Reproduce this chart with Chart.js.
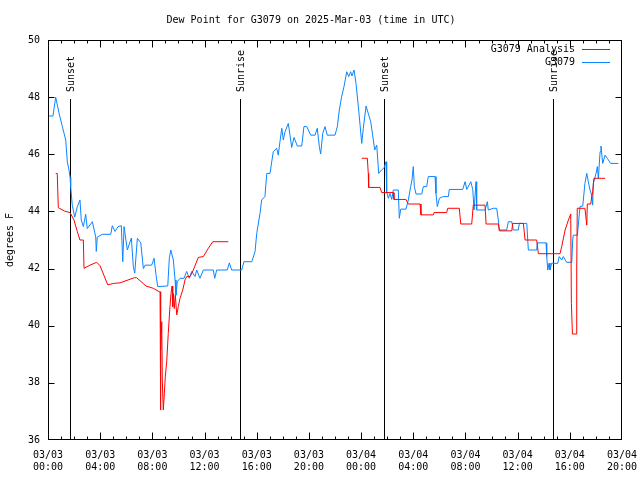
<!DOCTYPE html>
<html>
<head>
<meta charset="utf-8">
<script src="https://cdn.jsdelivr.net/npm/chart.js@4"></script>
<style>
html, body { margin: 0; padding: 0; background: #fff; }
</style>
</head>
<body>
<canvas id="dewChart" width="640" height="480"></canvas>
<script>
// hours since 03/03 00:00 UTC
const obsHours = [0.08, 0.38, 0.59, 0.84, 1.10, 1.36, 1.48, 1.61, 1.69, 1.74, 1.86, 2.05, 2.25, 2.45, 2.55, 2.71, 2.89, 3.01, 3.40, 3.66,
    3.70, 3.78, 4.16, 4.81, 4.93, 5.14, 5.37, 5.62, 5.73, 5.83, 6.08, 6.39, 6.54, 6.65, 6.85, 7.11, 7.31, 7.44, 7.95, 8.13,
    8.28, 8.41, 9.18, 9.30, 9.41, 9.61, 9.74, 9.81, 9.91, 10.12, 10.43, 10.63, 10.83, 11.02, 11.27, 11.40, 11.65, 11.91, 12.67, 12.78,
    12.93, 13.74, 13.90, 14.08, 14.85, 15.02, 15.62, 15.87, 16.00, 16.25, 16.38, 16.63, 16.77, 17.02, 17.15, 17.27, 17.53, 17.65, 17.78, 17.92,
    18.04, 18.17, 18.42, 18.55, 18.68, 18.86, 19.11, 19.45, 19.62, 19.83, 20.14, 20.47, 20.64, 20.80, 20.90, 21.06, 21.23, 21.41, 22.00, 22.18,
    22.33, 22.51, 22.69, 22.90, 23.05, 23.20, 23.30, 23.46, 23.61, 23.79, 23.92, 24.05, 24.17, 24.38, 24.55, 24.74, 24.94, 25.04, 25.20, 25.35,
    25.45, 25.78, 25.91, 25.96, 26.09, 26.22, 26.35, 26.47, 26.85, 26.93, 27.04, 27.44, 27.62, 27.80, 27.90, 28.00, 28.08, 28.21, 28.65, 28.77,
    29.03, 29.15, 29.67, 29.74, 29.84, 30.00, 30.30, 30.69, 30.76, 31.79, 31.97, 32.10, 32.41, 32.56, 32.66, 32.81, 32.86, 33.50, 33.68, 33.75,
    34.14, 34.39, 34.52, 34.60, 35.16, 35.29, 35.55, 35.67, 36.05, 36.13, 36.70, 36.82, 37.46, 37.51, 38.18, 38.23, 38.31, 38.41, 38.48, 38.61,
    39.07, 39.19, 39.38, 39.50, 39.76, 40.15, 40.22, 40.27, 40.58, 40.78, 40.99, 41.16, 41.30, 41.42, 41.55, 41.68, 41.75, 41.80, 42.01, 42.11,
    42.19, 42.32, 42.39, 42.52, 42.70, 42.87, 43.13, 43.72];
const obsDew = [47.34, 47.34, 48.00, 47.45, 46.97, 46.50, 45.74, 45.45, 45.20, 44.87, 44.22, 43.80, 44.17, 44.40, 43.70, 43.47, 43.90, 43.40, 43.64, 43.10,
    42.60, 43.10, 43.20, 43.20, 43.50, 43.30, 43.47, 43.50, 42.24, 43.47, 42.65, 43.07, 42.07, 41.84, 43.06, 42.90, 42.00, 42.12, 42.12, 42.36,
    41.78, 41.37, 41.39, 42.36, 42.65, 42.30, 41.60, 41.07, 41.54, 41.66, 41.66, 41.90, 41.66, 41.90, 41.72, 41.95, 41.66, 41.95, 41.95, 41.66,
    41.95, 41.95, 42.20, 41.95, 41.95, 42.24, 42.24, 42.59, 43.23, 43.93, 44.40, 44.52, 45.33, 45.33, 45.74, 46.09, 46.21, 45.97, 46.44, 46.91,
    46.50, 46.79, 47.08, 46.67, 46.24, 46.59, 46.29, 46.29, 46.97, 46.97, 46.67, 46.67, 46.91, 46.27, 46.01, 46.73, 46.97, 46.67, 46.67, 46.97,
    47.55, 48.02, 48.37, 48.89, 48.72, 48.89, 48.74, 48.95, 48.48, 47.67, 47.03, 46.38, 46.91, 47.69, 47.43, 47.14, 46.50, 46.15, 46.32, 45.33,
    45.39, 45.54, 45.74, 44.69, 44.46, 44.63, 44.42, 44.75, 44.75, 43.76, 44.08, 44.08, 44.40, 44.87, 45.10, 45.57, 44.87, 44.61, 44.61, 44.87,
    44.87, 45.22, 45.22, 44.63, 44.17, 44.46, 44.52, 44.52, 44.77, 44.77, 45.04, 44.77, 45.04, 44.77, 44.05, 45.04, 44.05, 44.05, 44.34, 44.05,
    44.11, 44.11, 43.70, 43.35, 43.35, 43.64, 43.64, 43.35, 43.35, 43.58, 43.58, 42.65, 42.65, 42.90, 42.90, 42.42, 41.95, 42.19, 41.95, 42.19,
    42.18, 42.42, 42.30, 42.42, 42.22, 42.22, 43.00, 43.17, 43.17, 44.17, 44.19, 44.98, 45.33, 45.04, 44.75, 44.57, 44.22, 44.98, 45.33, 45.57,
    45.16, 46.09, 46.29, 45.68, 45.97, 45.86, 45.68, 45.68];

const anaHours = [0.59, 0.71, 0.79, 1.28, 1.69, 1.99, 2.25, 2.45, 2.71, 2.76, 3.22, 3.73, 3.99, 4.58, 5.01, 5.52, 6.62, 6.80, 7.51, 8.07,
    8.53, 8.59, 8.61, 8.66, 8.72, 8.76, 8.84, 8.92, 8.99, 9.10, 9.22, 9.35, 9.43, 9.51, 9.56, 9.61, 9.68, 9.76, 9.87, 9.99,
    10.12, 10.33, 10.50, 10.63, 10.89, 11.14, 11.52, 11.91, 12.29, 12.63, 13.82,
    19.00,
    24.05, 24.48, 24.55, 24.58, 25.45, 25.58, 26.47, 26.52, 27.44, 27.62, 28.52, 28.59, 29.54, 29.59, 30.56, 30.64, 31.53, 31.64, 32.48, 32.60,
    33.50, 33.58, 34.52, 34.60, 35.55, 35.62, 36.44, 36.57, 37.46, 37.59, 39.25, 39.38, 39.64, 39.89, 40.07, 40.12, 40.20, 40.48, 40.53, 40.57,
    41.16, 41.30, 41.34, 41.60, 41.70, 41.75, 41.85, 42.70];
const anaDew = [45.33, 45.33, 44.13, 44.01, 43.96, 43.70, 43.29, 43.00, 43.00, 42.01, 42.12, 42.22, 42.10, 41.43, 41.48, 41.50, 41.68, 41.68, 41.39, 41.31,
    41.19, 41.19, 37.05, 39.15, 40.14, 38.10, 37.05, 37.63, 38.21, 38.74, 39.73, 40.67, 41.13, 41.39, 40.67, 41.13, 40.60, 41.07, 40.38, 40.67,
    40.96, 41.25, 41.60, 41.72, 41.72, 41.95, 42.39, 42.42, 42.71, 42.94, 42.94,
    null,
    45.86, 45.86, 45.33, 44.84, 44.84, 44.66, 44.66, 44.42, 44.42, 44.26, 44.26, 43.88, 43.88, 43.96, 43.96, 44.11, 44.11, 43.56, 43.56, 44.22,
    44.22, 43.56, 43.56, 43.32, 43.32, 43.58, 43.58, 43.00, 43.00, 42.52, 42.52, 42.77, 43.35, 43.70, 43.91, 40.78, 39.71, 39.71, 41.95, 44.11,
    44.11, 43.52, 44.26, 44.26, 44.57, 44.69, 45.16, 45.16];

const sunHours = [1.69, 14.72, 25.76, 38.71];
const sunLabels = ['Sunset', 'Sunrise', 'Sunset', 'Sunrise'];

const xTickLabels = ['03/03|00:00', '03/03|04:00', '03/03|08:00', '03/03|12:00', '03/03|16:00', '03/03|20:00',
    '03/04|00:00', '03/04|04:00', '03/04|08:00', '03/04|12:00', '03/04|16:00', '03/04|20:00'];
const yTicks = [36, 38, 40, 42, 44, 46, 48, 50];

const seriesNames = ['G3079 Analysis', 'G3079'];
const seriesColors = ['#ff0000', '#0a84ff'];

const monoFont = 'DejaVu Sans Mono';

function toPoints(xs, ys) {
    return xs.map(function (h, i) { return { x: h, y: ys[i] }; });
}

// gnuplot look: boxed frame, inward ticks, sun lines, legend top right
const gnuplotBits = {
    id: 'gnuplotBits',
    beforeDatasetsDraw: function (chart) {
        const ctx = chart.ctx;
        const a = chart.chartArea;
        const xs = chart.scales.x;
        ctx.save();
        ctx.strokeStyle = '#000';
        ctx.fillStyle = '#000';
        ctx.lineWidth = 1;
        ctx.font = '10px "' + monoFont + '"';
        for (let i = 0; i < sunHours.length; i++) {
            const px = Math.round(xs.getPixelForValue(sunHours[i])) + 0.5;
            const top = a.top + 59;
            ctx.beginPath();
            ctx.moveTo(px, top);
            ctx.lineTo(px, a.bottom);
            ctx.stroke();
            ctx.save();
            ctx.translate(px + 1, top - 7);
            ctx.rotate(-Math.PI / 2);
            ctx.textAlign = 'left';
            ctx.textBaseline = 'middle';
            ctx.fillText(sunLabels[i], 0, 0);
            ctx.restore();
        }
        ctx.restore();
    },
    afterDatasetsDraw: function (chart) {
        const ctx = chart.ctx;
        const a = chart.chartArea;
        const xs = chart.scales.x;
        const ys = chart.scales.y;
        const L = a.left + 0.5, R = a.right - 0.5, T = a.top + 0.5, B = a.bottom - 0.5;
        ctx.save();
        ctx.strokeStyle = '#000';
        ctx.lineWidth = 1;
        ctx.strokeRect(L, T, R - L, B - T);
        ctx.beginPath();
        for (let h = 0; h <= 44; h++) {
            const px = Math.min(Math.max(Math.round(xs.getPixelForValue(h)) + 0.5, L), R);
            const len = h % 4 === 0 ? 7 : 3;
            ctx.moveTo(px, B);
            ctx.lineTo(px, B - len);
            ctx.moveTo(px, T);
            ctx.lineTo(px, T + len);
        }
        for (let i = 0; i < yTicks.length; i++) {
            const py = Math.min(Math.max(Math.round(ys.getPixelForValue(yTicks[i])) + 0.5, T), B);
            ctx.moveTo(L, py);
            ctx.lineTo(L + 6, py);
            ctx.moveTo(R, py);
            ctx.lineTo(R - 6, py);
        }
        ctx.stroke();

        // legend
        ctx.font = '10px "' + monoFont + '"';
        ctx.textAlign = 'right';
        ctx.textBaseline = 'middle';
        ctx.fillStyle = '#000';
        for (let i = 0; i < seriesNames.length; i++) {
            const ly = a.top + 9 + i * 13;
            ctx.fillText(seriesNames[i], a.right - 47, ly);
            ctx.strokeStyle = seriesColors[i];
            ctx.beginPath();
            ctx.moveTo(a.right - 40, ly + 0.5);
            ctx.lineTo(a.right - 12, ly + 0.5);
            ctx.stroke();
        }
        ctx.restore();
    }
};

new Chart(document.getElementById('dewChart').getContext('2d'), {
    type: 'line',
    data: {
        datasets: [{
            label: seriesNames[0],
            data: toPoints(anaHours, anaDew),
            borderColor: seriesColors[0],
            borderWidth: 1,
            pointRadius: 0,
            tension: 0,
            spanGaps: false
        }, {
            label: seriesNames[1],
            data: toPoints(obsHours, obsDew),
            borderColor: seriesColors[1],
            borderWidth: 1,
            pointRadius: 0,
            tension: 0
        }]
    },
    options: {
        responsive: false,
        animation: false,
        events: [],
        layout: { padding: { left: 0, right: 18, top: 0, bottom: 0 } },
        plugins: {
            legend: { display: false },
            tooltip: { enabled: false },
            title: {
                display: true,
                text: 'Dew Point for G3079 on 2025-Mar-03 (time in UTC)',
                color: '#000',
                font: { family: monoFont, size: 10, weight: 'normal' },
                padding: { top: 14, bottom: 14 }
            }
        },
        scales: {
            x: {
                type: 'linear',
                min: 0,
                max: 44,
                grid: { display: false, drawTicks: false },
                border: { display: false },
                ticks: {
                    stepSize: 4,
                    autoSkip: false,
                    maxRotation: 0,
                    padding: 9,
                    color: '#000',
                    font: { family: monoFont, size: 10 },
                    callback: function (v) {
                        const lbl = xTickLabels[Math.round(v / 4)];
                        return lbl ? lbl.split('|') : '';
                    }
                },
                afterFit: function (s) {
                    s.height = 40;
                    s.paddingLeft = 0;
                    s.paddingRight = 0;
                }
            },
            y: {
                min: 36,
                max: 50,
                grid: { display: false, drawTicks: false },
                border: { display: false },
                ticks: {
                    stepSize: 2,
                    padding: 8,
                    color: '#000',
                    font: { family: monoFont, size: 10 }
                },
                title: {
                    display: true,
                    text: 'degrees F',
                    color: '#000',
                    font: { family: monoFont, size: 10 },
                    padding: { top: 4, bottom: 0 }
                },
                afterFit: function (s) {
                    s.width = 48;
                    s.paddingTop = 0;
                    s.paddingBottom = 0;
                }
            }
        }
    },
    plugins: [gnuplotBits]
});
</script>
</body>
</html>
